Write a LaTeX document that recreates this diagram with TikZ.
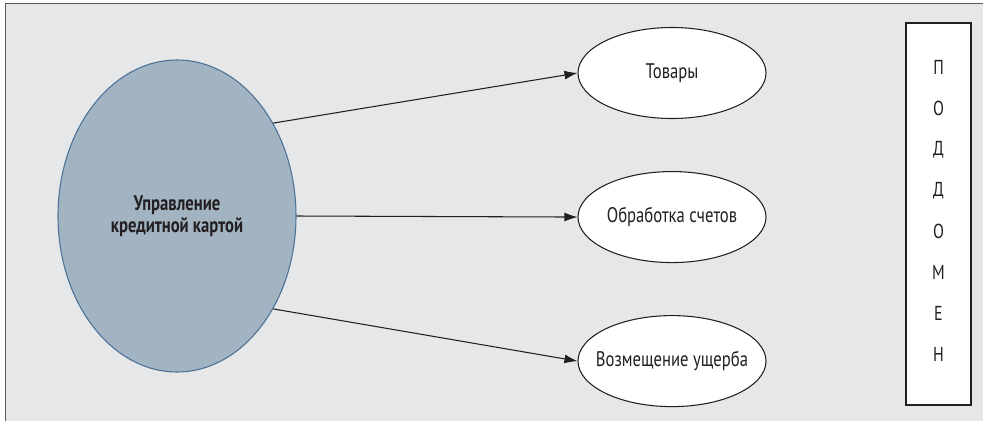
\documentclass[tikz,border=0pt]{standalone}
\usepackage{fontspec}
\setmainfont{PT Sans}[FakeStretch=0.79]
\usepackage{xcolor}
\usepackage{tikz}
\usetikzlibrary{positioning}
\usetikzlibrary{shapes.geometric}
\usetikzlibrary{arrows.meta}
\definecolor{panelgray}{HTML}{E6E7E8}
\definecolor{framegray}{HTML}{58595B}
\definecolor{mainfill}{HTML}{A2B3C1}
\definecolor{maindraw}{HTML}{4B7197}
\definecolor{inkgray}{HTML}{231F20}
\tikzset{%
  mainell/.style={ellipse,fill=mainfill,draw=maindraw,line width=0.6pt,inner sep=0pt,minimum width=4.76cm,minimum height=6.24cm,align=center,text=inkgray,font=\fontsize{12}{12.5}\selectfont\bfseries},
  subell/.style={ellipse,fill=white,draw=inkgray,line width=0.6pt,inner sep=0pt,minimum width=3.76cm,minimum height=1.82cm,
    label={[text=inkgray,font=\fontsize{12}{12.5}\selectfont]center:#1}},
  domainbox/.style={rectangle,fill=white,draw=inkgray,line width=0.6pt,minimum width=1.3cm,minimum height=7.64cm},
  letter/.style={text=inkgray,font=\fontsize{11.5}{12}\selectfont,inner sep=0pt},
  conn/.style={-{Latex[length=2.6mm,width=1.8mm]},draw=inkgray,line width=0.6pt}
}

\begin{document}
\begin{tikzpicture}[node distance=1.04cm]
            \useasboundingbox (0,0) rectangle (19.66,8.42);
            % panel
            \fill[panelgray] (0.11,0) rectangle (19.66,8.35);
            \draw[framegray,line width=0.9pt] (0.11,0) -- (0.11,8.35) -- (19.66,8.35);
            \node[mainell] (main) at (3.54,4.10) {Управление\\кредитной картой};
            \node[subell=Товары] (goods) at (13.44,6.96) {};
            \node[subell=Обработка счетов,below=of goods] (bills) {};
            \node[subell=Возмещение ущерба,below=of bills] (damage) {};
            \draw[conn] (main.44) -- (goods.west);
            \draw[conn] (main.east) -- (bills.west);
            \draw[conn] (main.-44) -- (damage.west);
            % subdomain
            \node[domainbox] (subdom) at (18.77,4.14) {};
            \foreach \l [count=\i] in {П,О,Д,Д,О,М,Е,Н}
                \node[letter] (let\i) at ([yshift=-0.08cm-0.82cm*\i]subdom.north) {\l};
        \end{tikzpicture}
\end{document}
